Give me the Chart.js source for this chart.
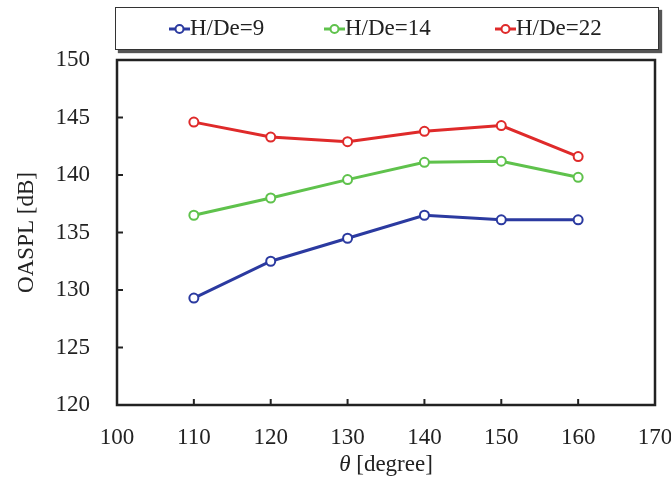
<!DOCTYPE html>
<html>
<head>
<meta charset="utf-8">
<script src="https://cdn.jsdelivr.net/npm/chart.js@4/dist/chart.umd.min.js"></script>
<style>
  html, body { margin: 0; padding: 0; background: #fff; }
  #wrap { position: relative; width: 671px; height: 484px; }
  #legend {
    position: absolute; left: 115px; top: 7px; width: 542px; height: 41px;
    border: 1.5px solid #333; background: #fff;
    box-shadow: 3px 3px 1px #555;
    font-family: "Liberation Serif", "Times New Roman", serif; font-size: 23px; color: #222;
  }
  .item { position: absolute; top: 7px; white-space: nowrap; }
  .item svg { vertical-align: 0px; }
  #xtitle {
    position: absolute; left: 117px; width: 538px; top: 451px; text-align: center;
    font-family: "Liberation Serif", "Times New Roman", serif; font-size: 23px; color: #222;
  }
</style>
</head>
<body>
<div id="wrap">
  <canvas id="chart" width="671" height="484"></canvas>
  <div id="legend"></div>
  <div id="xtitle"><i>θ</i> [degree]</div>
</div>
<script>
// angle (deg) vs overall sound pressure level
const angles = [110, 120, 130, 140, 150, 160];
const oasplH9  = [129.3, 132.5, 134.5, 136.5, 136.1, 136.1];
const oasplH14 = [136.5, 138.0, 139.6, 141.1, 141.2, 139.8];
const oasplH22 = [144.6, 143.3, 142.9, 143.8, 144.3, 141.6];

const seriesNames = ['H/De=9', 'H/De=14', 'H/De=22'];
const seriesColors = ['#2b3aa0', '#5fc24c', '#df2a2a'];
const xTicks = [100, 110, 120, 130, 140, 150, 160, 170];
const yTicks = [120, 125, 130, 135, 140, 145, 150];

const serif = '"Liberation Serif", "Times New Roman", serif';

const toPoints = (vals) => angles.map((a, i) => ({ x: a, y: vals[i] }));

const datasets = [oasplH9, oasplH14, oasplH22].map((vals, i) => ({
    label: seriesNames[i],
    data: toPoints(vals),
    borderColor: seriesColors[i],
    backgroundColor: '#fff',
    pointBackgroundColor: '#fff',
    pointBorderColor: seriesColors[i],
    borderWidth: 3,
    pointRadius: 4.5,
    pointBorderWidth: 2,
    tension: 0
}));

// frame around the plot plus inward tick marks
const frame = {
    id: 'frame',
    afterDraw(chart) {
        const { ctx, chartArea: a, scales } = chart;
        ctx.save();
        ctx.strokeStyle = '#222';
        ctx.lineWidth = 2.5;
        ctx.strokeRect(a.left, a.top, a.right - a.left, a.bottom - a.top);
        ctx.lineWidth = 2;
        ctx.beginPath();
        xTicks.slice(1, -1).forEach(v => {
            const px = scales.x.getPixelForValue(v);
            ctx.moveTo(px, a.bottom);
            ctx.lineTo(px, a.bottom - 6);
        });
        yTicks.slice(1, -1).forEach(v => {
            const py = scales.y.getPixelForValue(v);
            ctx.moveTo(a.left, py);
            ctx.lineTo(a.left + 6, py);
        });
        ctx.stroke();
        ctx.restore();
    }
};

new Chart(document.getElementById('chart'), {
    type: 'line',
    data: { datasets },
    plugins: [frame],
    options: {
        responsive: false,
        animation: false,
        layout: { padding: { top: 60, right: 16, bottom: 0, left: 9 } },
        plugins: { legend: { display: false }, tooltip: { enabled: false } },
        scales: {
            x: {
                type: 'linear', min: 100, max: 170,
                afterBuildTicks: (s) => { s.ticks = xTicks.map(v => ({ value: v })); },
                afterFit: (s) => { s.height = 79; s.paddingLeft = 0; s.paddingRight = 0; },
                grid: { display: false, drawTicks: false },
                border: { display: false },
                ticks: { padding: 19, color: '#222', font: { family: serif, size: 23 } }
            },
            y: {
                type: 'linear', min: 120, max: 150,
                afterBuildTicks: (s) => { s.ticks = yTicks.map(v => ({ value: v })); },
                afterFit: (s) => { s.width = 108; s.paddingTop = 0; s.paddingBottom = 0; },
                grid: { display: false, drawTicks: false },
                border: { display: false },
                ticks: { padding: 27, color: '#222', font: { family: serif, size: 23 } },
                title: { display: true, text: 'OASPL [dB]', color: '#222', padding: { bottom: 4 },
                         font: { family: serif, size: 23 } }
            }
        }
    }
});

// legend entries: line-through-circle marker + label
const legend = document.getElementById('legend');
const legendX = [53, 208, 379];
seriesNames.forEach((name, i) => {
    const c = seriesColors[i];
    const el = document.createElement('span');
    el.className = 'item';
    el.style.left = legendX[i] + 'px';
    el.innerHTML = `<svg width="21" height="12"><line x1="0" y1="6" x2="21" y2="6" stroke="${c}" stroke-width="3"/>` +
        `<circle cx="10.5" cy="6" r="4" fill="#fff" stroke="${c}" stroke-width="2"/></svg>${name}`;
    legend.appendChild(el);
});
</script>
</body>
</html>
